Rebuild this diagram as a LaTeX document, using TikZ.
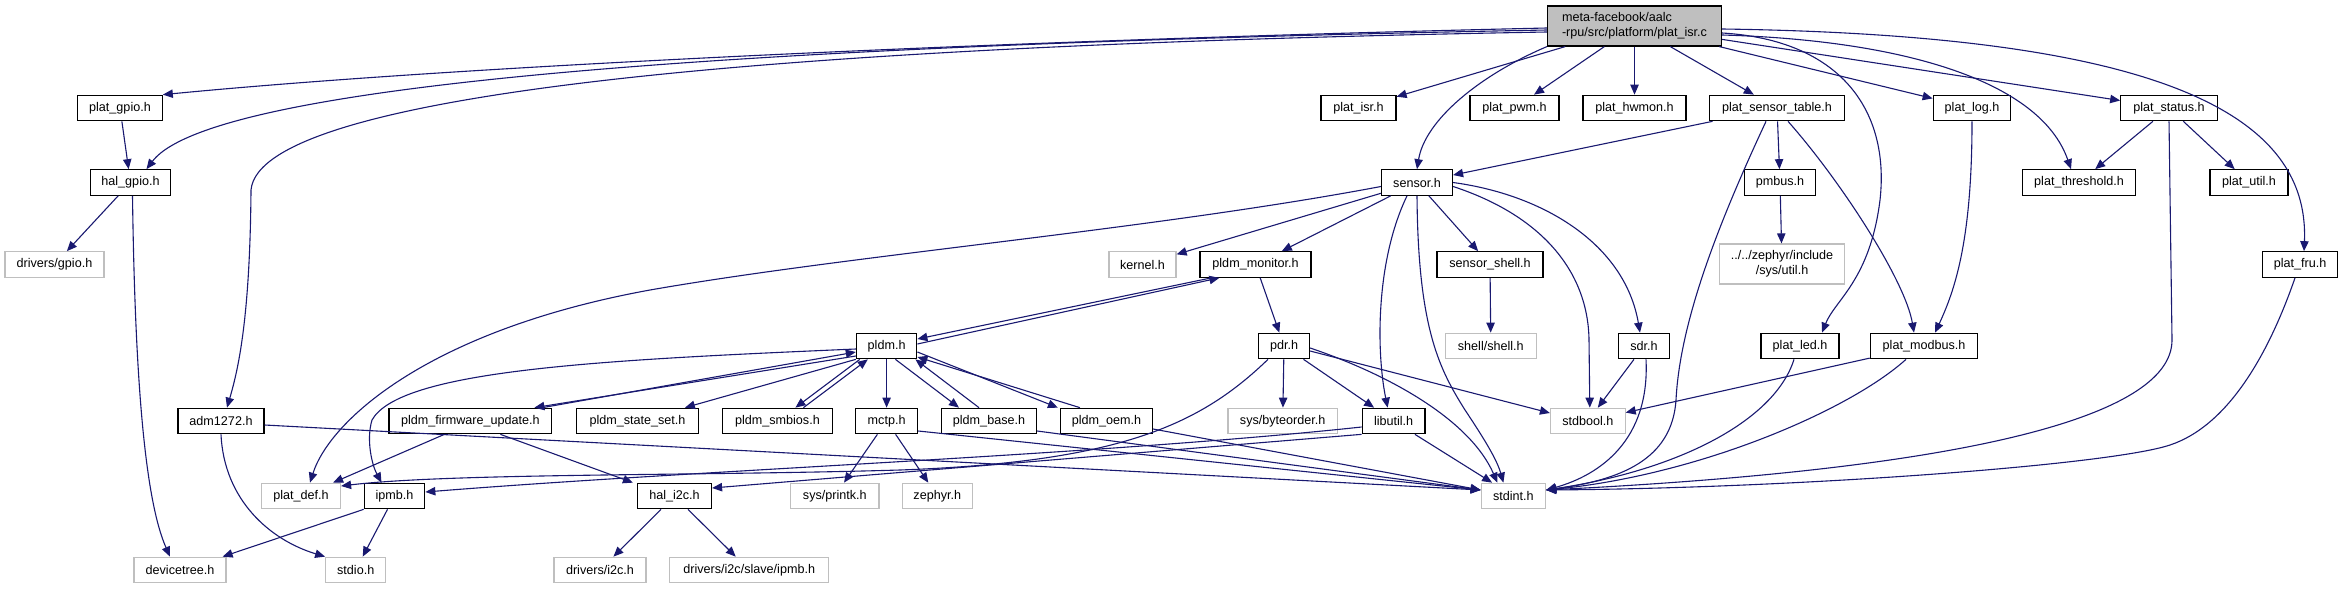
\documentclass[tikz,border=0pt]{standalone}
\usepackage{fontspec}
\setmainfont{Liberation Sans}
\usetikzlibrary{arrows.meta}
\definecolor{edgeblue}{HTML}{191970}
\definecolor{extgray}{HTML}{BFBFBF}
\begin{document}
\begin{tikzpicture}[x=0.5pt,y=-0.5pt,
 box/.style={draw=black, fill=white, line width=0.6pt, inner sep=0pt, minimum height=12.75pt, font=\fontsize{6.3}{7.5}\selectfont},
 ext/.style={box, draw=extgray},
 mainbox/.style={box, fill=extgray, align=left, minimum height=20pt},
 bw/.style={minimum width=#1*0.5pt},
 dep/.style={draw=edgeblue, line width=0.55pt, -{Triangle[length=5pt,width=4.2pt]}}]
\useasboundingbox (0,0) rectangle (2343,589);
% row 0
\node[mainbox,bw=174] (M) at (1634.5,26) {meta-facebook/aalc\\-rpu/src/platform/plat\_isr.c};
% row 1
\node[box,bw=84.5] (pg) at (120,108) {plat\_gpio.h};
\node[box,bw=75] (isr) at (1358.5,108) {plat\_isr.h};
\node[box,bw=89] (pwm) at (1514.5,108) {plat\_pwm.h};
\node[box,bw=103] (hwmon) at (1634.5,108) {plat\_hwmon.h};
\node[box,bw=135.6] (pst) at (1777,108) {plat\_sensor\_table.h};
\node[box,bw=77.6] (plog) at (1972,108) {plat\_log.h};
\node[box,bw=96.5] (pstat) at (2169,108) {plat\_status.h};
% row 2
\node[box,bw=80.4] (hg) at (130.5,182.5) {hal\_gpio.h};
\node[box,bw=71] (sen) at (1417,182.5) {sensor.h};
\node[box,bw=71] (pmb) at (1780,182.5) {pmbus.h};
\node[box,bw=113] (pthr) at (2079,182.5) {plat\_threshold.h};
\node[box,bw=78] (putil) at (2249,182.5) {plat\_util.h};
% row 3
\node[ext,bw=99] (dg) at (54.5,264.5) {drivers/gpio.h};
\node[ext,bw=67] (kern) at (1142.5,264.5) {kernel.h};
\node[box,bw=111] (pmon) at (1255.5,264.5) {pldm\_monitor.h};
\node[box,bw=106] (ssh) at (1490,264.5) {sensor\_shell.h};
\node[ext,bw=124.6,minimum height=20pt,align=center] (zutil) at (1782,264) {../../zephyr/include\\/sys/util.h};
\node[box,bw=75] (fru) at (2300,264.5) {plat\_fru.h};
% row 4
\node[box,bw=60.4] (pldm) at (886.6,346) {pldm.h};
\node[box,bw=51] (pdr) at (1284,346) {pdr.h};
\node[ext,bw=91] (shell) at (1490.8,346) {shell/shell.h};
\node[box,bw=51] (sdr) at (1644,346) {sdr.h};
\node[box,bw=78] (led) at (1800,346) {plat\_led.h};
\node[box,bw=107.4] (modbus) at (1924,346) {plat\_modbus.h};
% row 5
\node[box,bw=86] (adm) at (221,421) {adm1272.h};
\node[box,bw=162.8] (pfu) at (470.4,421) {pldm\_firmware\_update.h};
\node[box,bw=121.6] (pss) at (637.5,421) {pldm\_state\_set.h};
\node[box,bw=110] (psm) at (777.4,421) {pldm\_smbios.h};
\node[box,bw=62] (mctp) at (886.6,421) {mctp.h};
\node[box,bw=95] (pbase) at (989,421) {pldm\_base.h};
\node[box,bw=92] (poem) at (1106.5,421) {pldm\_oem.h};
\node[ext,bw=109.5] (bord) at (1282.7,421) {sys/byteorder.h};
\node[box,bw=62.8] (libu) at (1393.6,421) {libutil.h};
\node[ext,bw=74.6] (sbool) at (1587.8,421) {stdbool.h};
% row 6
\node[ext,bw=79] (pdef) at (301,496) {plat\_def.h};
\node[box,bw=60.5] (ipmb) at (394.5,496) {ipmb.h};
\node[box,bw=74] (hi2c) at (674.5,496) {hal\_i2c.h};
\node[ext,bw=88.4] (printk) at (834.8,496) {sys/printk.h};
\node[ext,bw=70] (zeph) at (937.3,496) {zephyr.h};
\node[ext,bw=64.3] (sint) at (1513.4,496) {stdint.h};
% row 7
\node[ext,bw=92] (dtree) at (180,570) {devicetree.h};
\node[ext,bw=60] (stdio) at (355.7,570) {stdio.h};
\node[ext,bw=92] (di2c) at (600,570) {drivers/i2c.h};
\node[ext,bw=159] (sipmb) at (749.2,570) {drivers/i2c/slave/ipmb.h};
\coordinate (sintL) at ([yshift=3pt]sint.west);
\coordinate (sintR) at ([yshift=3pt]sint.east);
% ---- edges from main
\draw[dep] ([yshift=-1pt]M.west) .. controls (1100,38) and (500,62) .. (pg.north east);
\draw[dep] ([yshift=-2pt]M.west) .. controls (900,42) and (220,72) .. ([xshift=8pt]hg.north);
\draw[dep] ([yshift=-3pt]M.west) .. controls (800,45) and (260,90) .. (251,190) .. controls (250,320) and (238,370) .. ([xshift=3pt]adm.north);
\draw[dep] (M) -- (isr);
\draw[dep] (M) -- (pwm);
\draw[dep] (M) -- (hwmon);
\draw[dep] (M) -- (pst);
\draw[dep] (M) -- (plog);
\draw[dep] (M) -- (pstat);
\draw[dep] (M.south west) .. controls (1480,75) and (1425,120) .. (sen.north);
\draw[dep] ([yshift=-4.5pt]M.east) .. controls (1900,40) and (2040,80) .. ([xshift=-4pt]pthr.north);
\draw[dep] ([yshift=-1.5pt]M.east) .. controls (2150,35) and (2310,110) .. ([xshift=2pt]fru.north);
\draw[dep] ([yshift=-3.5pt]M.east) .. controls (1840,40) and (1890,110) .. (1880,200) .. controls (1870,280) and (1835,300) .. ([xshift=11pt]led.north);
% ---- gpio
\draw[dep] (pg) -- (hg);
\draw[dep] (hg) -- (dg);
\draw[dep] ([xshift=1pt]hg.south) .. controls (135,380) and (145,500) .. ([xshift=-5pt]dtree.north);
% ---- adm1272
\draw[dep] (adm.south) .. controls (224,500) and (270,540) .. (stdio.north west);
\draw[dep] ([yshift=-2pt]adm.east) -- (sintL);
% ---- plat_sensor_table
\draw[dep] (pst) -- (sen);
\draw[dep] (pst) -- (pmb);
\draw[dep] ([xshift=-5.5pt]pst.south) .. controls (1720,220) and (1680,320) .. (1676,400) .. controls (1672,460) and (1620,480) .. (sintR);
\draw[dep] ([xshift=5.5pt]pst.south) .. controls (1840,180) and (1905,280) .. ([xshift=-5pt]modbus.north);
\draw[dep] (pmb) -- (zutil);
\draw[dep] (plog.south) .. controls (1972,240) and (1955,290) .. ([xshift=5.5pt]modbus.north);
% ---- plat_status
\draw[dep] (pstat) -- (pthr);
\draw[dep] (pstat) -- (putil);
\draw[dep] (pstat.south) -- (2172,340) .. controls (2172,420) and (1950,470) .. (sintR);
\draw[dep] ([xshift=-2.5pt]fru.south) .. controls (2270,350) and (2230,425) .. (2170,445) .. controls (2110,465) and (1800,488) .. (sintR);
\draw[dep] ([xshift=-3pt]led.south) .. controls (1775,420) and (1680,470) .. (sintR);
\draw[dep] (modbus) -- (sbool);
\draw[dep] ([xshift=-9pt]modbus.south) .. controls (1850,410) and (1700,475) .. (sintR);
% ---- sensor.h
\draw[dep] (sen) -- (kern);
\draw[dep] ([yshift=-2pt]sen.west) .. controls (1150,230) and (850,255) .. (650,290) .. controls (430,330) and (330,420) .. ([xshift=4.5pt]pdef.north);
\draw[dep] (sen) -- (pmon);
\draw[dep] (sen) -- (ssh);
\draw[dep] ([xshift=-5pt]sen.south) .. controls (1376,260) and (1376,350) .. ([xshift=-3pt]libu.north);
\draw[dep] (sen.south) .. controls (1418,330) and (1440,370) .. (1465,410) .. controls (1485,440) and (1497,460) .. ([xshift=-5pt]sint.north);
\draw[dep] (sen.east) .. controls (1545,195) and (1625,245) .. ([xshift=-2pt]sdr.north);
\draw[dep] ([yshift=-2pt]sen.east) .. controls (1540,215) and (1588,270) .. (1589,340) -- ([xshift=1pt]sbool.north);
\draw[dep] (ssh) -- (shell);
% ---- pldm_monitor
\draw[dep] (pmon) -- (pdr);
\draw[dep] ([xshift=6pt]pmon.south west) -- ([yshift=3.5pt]pldm.east);
\draw[dep] ([yshift=1pt]pldm.east) -- ([xshift=10pt]pmon.south west);
% ---- pldm.h
\draw[dep] ([yshift=-1.5pt]pldm.west) .. controls (600,360) and (400,370) .. (372,420) .. controls (366,440) and (372,465) .. ([xshift=-6.5pt]ipmb.north);
\draw[dep] ([xshift=-5pt]pfu.north east) -- ([yshift=-3pt]pldm.west);
\draw[dep] ([yshift=-5pt]pldm.west) -- ([xshift=-9pt]pfu.north east);
\draw[dep] (pldm.south west) -- ([xshift=-7pt]pss.north east);
\draw[dep] ([xshift=2pt]pldm.south west) -- ([xshift=9pt]psm.north);
\draw[dep] ([xshift=13pt]psm.north) -- ([xshift=6pt]pldm.south west);
\draw[dep] (pldm) -- (mctp);
\draw[dep] ([xshift=-11pt]pldm.south east) -- ([xshift=-15pt]pbase.north);
\draw[dep] ([xshift=-5pt]pbase.north) -- ([xshift=-1pt]pldm.south east);
\draw[dep] ([yshift=-3pt]pldm.east) -- ([xshift=-1pt]poem.north west);
\draw[dep] ([xshift=10pt]poem.north west) -- ([yshift=-5.5pt]pldm.east);
% ---- mctp, base, oem
\draw[dep] (mctp) -- (printk);
\draw[dep] (mctp) -- (zeph);
\draw[dep] ([yshift=-5pt]mctp.east) -- (sintL);
\draw[dep] ([yshift=-5pt]pbase.east) -- (sintL);
\draw[dep] ([yshift=-4pt]poem.east) -- (sintL);
% ---- pldm_firmware_update
\draw[dep] ([xshift=-13pt]pfu.south) -- ([xshift=-4pt]pdef.north east);
\draw[dep] ([xshift=15pt]pfu.south) -- ([xshift=-2pt]hi2c.north west);
% ---- pdr
\draw[dep] (pdr) -- (bord);
\draw[dep] (pdr) -- (libu);
\draw[dep] ([yshift=-1pt]pdr.east) .. controls (1390,375) and (1470,420) .. ([xshift=-8pt]sint.north);
\draw[dep] ([yshift=-2.5pt]pdr.east) -- ([yshift=4pt]sbool.west);
\draw[dep] ([xshift=-8pt]pdr.south) .. controls (1200,425) and (1120,462) .. (900,470) .. controls (700,476) and (450,473) .. ([yshift=5pt]pdef.east);
% ---- libutil
\draw[dep] (libu) -- (sint);
\draw[dep] (libu.south west) -- ([yshift=4pt]hi2c.east);
\draw[dep] ([yshift=-3pt]libu.west) .. controls (1100,455) and (700,470) .. ([yshift=2pt]ipmb.east);
% ---- sdr
\draw[dep] (sdr) -- (sbool);
\draw[dep] ([xshift=1pt]sdr.south) .. controls (1650,440) and (1600,475) .. (sintR);
% ---- ipmb, hal_i2c
\draw[dep] (ipmb.south west) -- ([xshift=-2pt]dtree.north east);
\draw[dep] (ipmb) -- (stdio);
\draw[dep] (hi2c) -- (di2c);
\draw[dep] (hi2c) -- (sipmb);
\end{tikzpicture}
\end{document}
